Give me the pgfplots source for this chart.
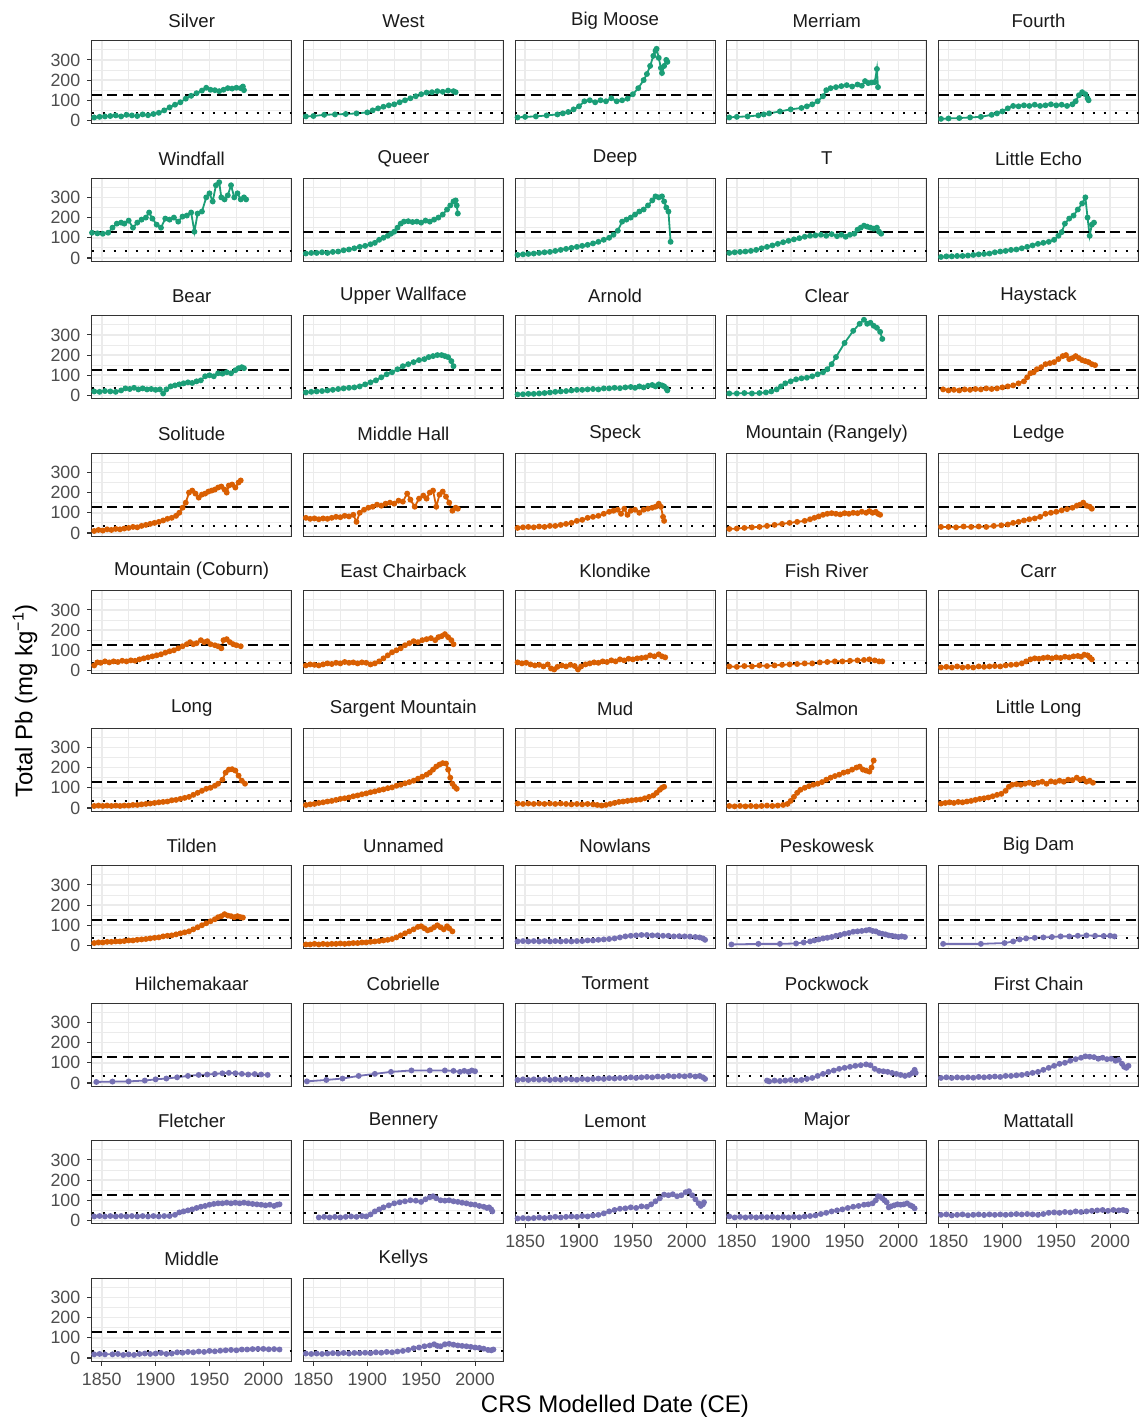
\documentclass[border=0pt]{standalone}
\usepackage{fontspec}
\setmainfont{Liberation Sans}
\usepackage{pgfplots}
\pgfplotsset{compat=1.18}
\definecolor{cg}{HTML}{1B9E77}
\definecolor{co}{HTML}{D95F02}
\definecolor{cp}{HTML}{7570B3}
\definecolor{gridc}{HTML}{EBEBEB}
\definecolor{framec}{HTML}{333333}
\definecolor{tickc}{HTML}{4D4D4D}
\definecolor{stripc}{HTML}{1A1A1A}
\pgfplotsset{
 every axis title/.style={at={(0.5,1)}, anchor=center, yshift=10pt, inner sep=0pt,
     font=\fontsize{9.3}{11}\selectfont, text=stripc},
 panel/.style={
   anchor=north west, scale only axis, width=100pt, height=41.5pt,
   xmin=1840.7, xmax=2026.3, ymin=-17, ymax=394,
   xtick={1850,1900,1950,2000}, minor xtick={1875,1925,1975,2025},
   ytick={0,100,200,300}, minor ytick={50,150,250,350},
   grid=both, major grid style={draw=gridc, line width=0.8pt},
   minor grid style={draw=gridc, line width=0.4pt},
   axis line style={draw=framec, line width=0.55pt},
   tick align=outside, tick pos=left, major tick length=2.2pt, minor tick length=0pt,
   xtick style={draw=none}, ytick style={draw=none},
   xticklabels={}, yticklabels={},
   ticklabel style={font=\fontsize{8.9}{10}\selectfont, text=tickc},
 },
 xlab/.style={xticklabels={1850,1900,1950,2000}, xtick style={draw=framec, line width=0.55pt}},
 ylab/.style={yticklabels={0,100,200,300}, ytick style={draw=framec, line width=0.55pt}},
}
\newcommand{\panel}[6]{%
 \begin{axis}[panel, at={({(91.7+211.7*#2)*0.5pt},{-(40.9+137.5*#1)*0.5pt})}, title={#3}, #6]
 \addplot[color=#4, line width=0.9pt, mark=*, mark size=1pt, mark options={solid}] coordinates {#5};
 \addplot[black, line width=1pt, dash pattern=on 5pt off 2.8pt] coordinates {(1840.7,128)(2026.3,128)};
 \addplot[black, line width=1.2pt, dash pattern=on 1.1pt off 4.4pt] coordinates {(1840.7,35.8)(2026.3,35.8)};
 \end{axis}}
\begin{document}
\begin{tikzpicture}
\path[use as bounding box] (0,0) rectangle (569.5pt,-710pt);
% Row 1
\panel{0}{0}{Silver}{cg}{(1843,15)(1848,18)(1853,20)(1858,22)(1863,25)(1868,20)(1873,28)(1878,25)(1883,22)(1888,30)(1893,26)(1898,32)(1903,38)(1908,50)(1913,65)(1918,78)(1923,90)(1928,108)(1933,122)(1938,135)(1943,148)(1947,162)(1951,152)(1955,150)(1959,145)(1963,152)(1967,160)(1971,158)(1975,162)(1979,160)(1981,168)(1982,150)}{ylab}
\panel{0}{1}{West}{cg}{(1843,20)(1850,22)(1860,28)(1870,30)(1880,32)(1890,35)(1900,40)(1905,50)(1910,60)(1915,68)(1920,75)(1925,80)(1930,90)(1935,100)(1940,110)(1945,120)(1950,130)(1955,138)(1960,140)(1965,145)(1970,142)(1975,148)(1980,145)(1982,140)}{}
\panel{0}{2}{Big Moose}{cg}{(1843,15)(1850,18)(1860,20)(1870,25)(1880,30)(1885,35)(1890,42)(1895,55)(1900,70)(1905,95)(1910,100)(1915,90)(1920,100)(1925,95)(1930,110)(1935,95)(1940,100)(1945,108)(1950,130)(1955,160)(1960,200)(1963,230)(1966,270)(1969,320)(1971,345)(1972,355)(1974,310)(1976,260)(1977,235)(1979,270)(1981,300)(1982,290)}{}
\panel{0}{3}{Merriam}{cg}{(1843,15)(1850,18)(1860,20)(1870,25)(1875,30)(1880,35)(1890,45)(1900,55)(1910,62)(1915,70)(1920,80)(1925,95)(1930,120)(1933,150)(1937,160)(1942,165)(1947,170)(1952,175)(1957,168)(1962,178)(1966,172)(1969,195)(1972,185)(1975,188)(1978,190)(1980,255)(1981,165)}{}
\panel{0}{4}{Fourth}{cg}{(1843,8)(1850,10)(1860,12)(1870,15)(1880,18)(1890,28)(1895,35)(1900,45)(1905,60)(1910,72)(1915,70)(1920,75)(1925,72)(1930,78)(1935,72)(1940,75)(1945,80)(1950,75)(1955,78)(1960,72)(1965,80)(1968,95)(1971,125)(1974,140)(1977,130)(1979,110)(1980,100)}{}
% Row 2
\panel{1}{0}{Windfall}{cg}{(1841,125)(1846,122)(1851,120)(1856,125)(1860,150)(1864,170)(1868,175)(1871,170)(1875,185)(1879,150)(1883,175)(1887,190)(1891,200)(1894,225)(1897,195)(1901,165)(1905,150)(1909,195)(1913,190)(1917,200)(1921,180)(1925,205)(1929,210)(1933,225)(1936,130)(1939,220)(1943,230)(1947,300)(1950,320)(1953,280)(1956,360)(1959,375)(1961,300)(1964,290)(1967,310)(1970,360)(1973,300)(1976,320)(1979,290)(1982,300)(1984,290)}{ylab}
\panel{1}{1}{Queer}{cg}{(1843,22)(1848,25)(1853,25)(1858,28)(1863,25)(1868,30)(1873,32)(1878,38)(1883,42)(1888,48)(1893,55)(1898,60)(1903,68)(1907,75)(1911,90)(1915,100)(1919,110)(1922,120)(1925,130)(1928,150)(1931,170)(1934,180)(1938,182)(1942,178)(1946,180)(1950,175)(1954,185)(1958,180)(1962,190)(1966,200)(1970,215)(1974,240)(1977,260)(1980,280)(1982,285)(1983,260)(1984,220)}{}
\panel{1}{2}{Deep}{cg}{(1843,15)(1848,18)(1853,20)(1858,22)(1863,25)(1868,28)(1873,30)(1878,35)(1883,40)(1888,45)(1893,50)(1898,55)(1903,60)(1908,65)(1913,72)(1918,80)(1923,90)(1928,100)(1932,115)(1936,135)(1940,180)(1944,190)(1948,200)(1952,215)(1956,230)(1960,240)(1964,260)(1968,285)(1971,305)(1974,300)(1977,305)(1979,280)(1981,250)(1983,230)(1985,80)}{}
\panel{1}{3}{T}{cg}{(1843,25)(1848,28)(1853,30)(1858,32)(1863,35)(1868,40)(1873,48)(1878,55)(1883,62)(1888,70)(1893,78)(1898,85)(1903,92)(1908,98)(1913,105)(1918,110)(1923,112)(1928,115)(1933,110)(1938,118)(1943,108)(1947,115)(1951,105)(1955,115)(1959,120)(1962,140)(1965,150)(1968,160)(1971,155)(1974,150)(1977,145)(1980,150)(1982,130)(1984,120)}{}
\panel{1}{4}{Little Echo}{cg}{(1843,5)(1848,8)(1853,8)(1858,10)(1863,10)(1868,12)(1873,15)(1878,18)(1883,20)(1888,22)(1893,28)(1898,32)(1903,35)(1908,40)(1913,42)(1918,48)(1923,55)(1928,62)(1933,70)(1938,75)(1943,80)(1948,90)(1952,110)(1955,128)(1958,170)(1962,195)(1966,210)(1970,240)(1974,270)(1977,300)(1979,200)(1981,110)(1983,165)(1985,175)}{}
% Row 3
\panel{2}{0}{Bear}{cg}{(1843,20)(1848,18)(1853,22)(1858,20)(1863,18)(1868,25)(1872,35)(1876,32)(1880,38)(1884,30)(1888,35)(1892,30)(1896,32)(1900,28)(1904,30)(1907,10)(1910,30)(1914,45)(1918,50)(1922,55)(1926,60)(1930,65)(1934,62)(1938,70)(1942,75)(1946,95)(1950,100)(1954,95)(1958,110)(1962,108)(1966,115)(1970,110)(1974,125)(1977,135)(1980,140)(1982,135)}{ylab}
\panel{2}{1}{Upper Wallface}{cg}{(1843,15)(1848,18)(1853,20)(1858,22)(1863,25)(1868,28)(1873,32)(1878,35)(1883,38)(1888,40)(1893,45)(1898,55)(1903,65)(1908,75)(1913,90)(1918,105)(1923,115)(1928,130)(1933,145)(1938,155)(1943,165)(1948,175)(1953,180)(1957,190)(1961,195)(1965,200)(1969,200)(1972,195)(1975,190)(1978,170)(1980,145)}{}
\panel{2}{2}{Arnold}{cg}{(1843,5)(1848,6)(1853,8)(1858,8)(1863,10)(1868,12)(1873,15)(1878,18)(1883,20)(1888,22)(1893,25)(1898,28)(1903,28)(1908,30)(1913,32)(1918,30)(1923,35)(1928,35)(1933,38)(1938,36)(1943,40)(1948,42)(1952,38)(1956,45)(1960,40)(1964,48)(1968,52)(1971,45)(1974,55)(1977,50)(1979,45)(1981,35)(1982,25)}{}
\panel{2}{3}{Clear}{cg}{(1843,10)(1850,10)(1857,12)(1864,10)(1871,12)(1877,15)(1882,20)(1887,30)(1891,45)(1895,60)(1900,70)(1905,80)(1910,85)(1915,88)(1920,95)(1925,105)(1930,115)(1934,130)(1938,155)(1942,190)(1950,260)(1958,320)(1964,355)(1968,375)(1971,355)(1974,360)(1977,345)(1980,335)(1983,315)(1985,280)}{}
\panel{2}{4}{Haystack}{co}{(1845,30)(1850,25)(1855,28)(1860,25)(1865,30)(1870,28)(1875,32)(1880,30)(1885,35)(1890,32)(1895,35)(1900,40)(1905,45)(1910,50)(1915,60)(1920,70)(1923,90)(1926,110)(1929,115)(1932,130)(1936,140)(1940,155)(1944,160)(1948,165)(1952,180)(1956,195)(1959,200)(1962,180)(1965,185)(1968,195)(1971,185)(1974,175)(1977,170)(1980,165)(1983,155)(1986,150)}{}
% Row 4
\panel{3}{0}{Solitude}{co}{(1843,10)(1847,15)(1851,12)(1855,18)(1859,15)(1863,20)(1867,18)(1871,22)(1875,25)(1879,30)(1883,28)(1887,35)(1891,40)(1895,45)(1899,50)(1903,55)(1907,62)(1911,70)(1915,75)(1919,85)(1922,100)(1925,125)(1928,150)(1931,200)(1934,210)(1937,195)(1940,175)(1943,190)(1946,195)(1949,205)(1952,210)(1955,215)(1958,225)(1961,230)(1964,215)(1966,200)(1968,235)(1971,240)(1974,225)(1977,250)(1979,260)}{ylab}
\panel{3}{1}{Middle Hall}{co}{(1843,75)(1847,70)(1851,72)(1855,68)(1859,72)(1863,70)(1867,75)(1871,80)(1875,78)(1879,85)(1883,82)(1887,90)(1890,55)(1893,100)(1897,115)(1901,125)(1905,130)(1909,140)(1913,135)(1917,145)(1921,150)(1925,145)(1929,160)(1933,155)(1937,195)(1940,165)(1944,130)(1948,170)(1952,185)(1955,170)(1958,200)(1961,210)(1964,130)(1967,190)(1970,205)(1973,180)(1976,150)(1979,110)(1982,125)(1984,120)}{}
\panel{3}{2}{Speck}{co}{(1843,25)(1848,28)(1853,30)(1858,28)(1863,32)(1868,30)(1873,35)(1878,35)(1883,40)(1888,45)(1893,50)(1898,60)(1903,65)(1908,75)(1913,80)(1918,85)(1923,95)(1928,105)(1932,110)(1936,115)(1939,95)(1942,120)(1945,90)(1948,110)(1952,115)(1956,100)(1960,115)(1964,120)(1968,125)(1971,130)(1974,145)(1976,130)(1978,80)(1979,60)}{}
\panel{3}{3}{Mountain (Rangely)}{co}{(1843,20)(1850,22)(1857,25)(1864,28)(1871,30)(1878,35)(1885,40)(1892,45)(1899,50)(1906,55)(1913,60)(1918,68)(1922,75)(1926,82)(1930,90)(1934,95)(1938,98)(1942,95)(1946,92)(1950,98)(1954,95)(1958,100)(1962,98)(1966,105)(1970,100)(1973,108)(1976,100)(1979,105)(1981,95)(1983,90)}{}
\panel{3}{4}{Ledge}{co}{(1843,30)(1850,30)(1857,28)(1864,32)(1871,30)(1878,32)(1885,30)(1892,35)(1899,38)(1905,42)(1910,50)(1915,55)(1920,62)(1925,68)(1930,72)(1935,80)(1940,95)(1945,100)(1950,105)(1955,112)(1960,118)(1965,125)(1969,135)(1972,140)(1975,150)(1978,135)(1981,130)(1983,120)}{}
% Row 5
\panel{4}{0}{Mountain (Coburn)}{co}{(1843,25)(1846,40)(1849,38)(1853,45)(1857,40)(1861,45)(1865,42)(1869,48)(1873,45)(1877,50)(1881,48)(1885,55)(1889,60)(1893,65)(1897,70)(1901,75)(1905,80)(1909,88)(1913,95)(1917,100)(1921,110)(1925,120)(1929,130)(1932,140)(1935,130)(1938,135)(1942,150)(1945,140)(1948,145)(1951,130)(1955,125)(1958,120)(1961,110)(1963,150)(1966,155)(1969,140)(1972,130)(1975,125)(1979,120)}{ylab}
\panel{4}{1}{East Chairback}{co}{(1843,25)(1847,30)(1851,28)(1855,25)(1859,30)(1863,35)(1867,32)(1871,38)(1875,35)(1879,42)(1883,38)(1887,40)(1891,35)(1895,40)(1899,38)(1903,30)(1907,35)(1911,45)(1915,60)(1919,75)(1923,90)(1927,100)(1931,110)(1935,125)(1939,135)(1943,145)(1947,140)(1951,150)(1955,155)(1959,160)(1963,150)(1966,165)(1969,170)(1972,180)(1975,165)(1978,150)(1980,130)}{}
\panel{4}{2}{Klondike}{co}{(1843,40)(1847,35)(1851,38)(1855,30)(1859,25)(1863,28)(1867,20)(1871,30)(1874,10)(1877,5)(1880,18)(1884,25)(1888,20)(1892,28)(1896,22)(1899,5)(1902,20)(1906,30)(1910,35)(1914,40)(1918,38)(1922,45)(1926,42)(1930,50)(1934,45)(1938,55)(1942,50)(1946,58)(1950,55)(1954,60)(1958,62)(1962,65)(1966,75)(1970,70)(1974,80)(1977,70)(1980,65)}{}
\panel{4}{3}{Fish River}{co}{(1843,20)(1850,18)(1857,22)(1864,20)(1871,25)(1878,22)(1885,25)(1892,28)(1899,30)(1906,32)(1913,35)(1920,35)(1927,40)(1934,42)(1941,45)(1948,45)(1955,48)(1962,50)(1968,52)(1973,55)(1978,50)(1982,45)(1985,45)}{}
\panel{4}{4}{Carr}{co}{(1843,15)(1848,18)(1853,15)(1858,20)(1863,15)(1868,18)(1873,15)(1878,20)(1883,18)(1888,20)(1893,22)(1898,20)(1903,25)(1908,28)(1913,30)(1918,35)(1922,45)(1926,55)(1930,60)(1934,58)(1938,62)(1942,65)(1946,60)(1950,65)(1954,62)(1958,68)(1962,65)(1966,70)(1970,72)(1973,68)(1976,78)(1979,75)(1981,65)(1983,55)}{}
% Row 6
\panel{5}{0}{Long}{co}{(1843,10)(1847,12)(1851,10)(1855,12)(1859,10)(1863,12)(1867,10)(1871,12)(1875,12)(1879,15)(1883,15)(1887,18)(1891,20)(1895,22)(1899,25)(1903,28)(1907,30)(1911,32)(1915,38)(1919,40)(1923,45)(1927,50)(1931,55)(1935,65)(1939,75)(1943,85)(1947,95)(1951,100)(1955,110)(1958,120)(1962,140)(1965,175)(1968,190)(1971,192)(1974,185)(1977,160)(1980,135)(1983,120)}{ylab}
\panel{5}{1}{Sargent Mountain}{co}{(1843,15)(1847,18)(1851,20)(1855,25)(1859,28)(1863,32)(1867,35)(1871,40)(1875,45)(1879,48)(1883,52)(1887,58)(1891,62)(1895,68)(1899,72)(1903,78)(1907,82)(1911,88)(1915,92)(1919,98)(1923,102)(1927,110)(1931,115)(1935,122)(1939,128)(1943,135)(1947,145)(1951,155)(1955,165)(1958,175)(1961,190)(1964,205)(1967,215)(1970,222)(1973,220)(1975,190)(1977,150)(1979,120)(1981,105)(1983,95)}{}
\panel{5}{2}{Mud}{co}{(1843,22)(1848,20)(1853,22)(1858,20)(1863,22)(1868,20)(1873,22)(1878,20)(1883,22)(1888,20)(1893,18)(1898,20)(1903,18)(1908,20)(1913,18)(1917,15)(1921,12)(1925,15)(1929,20)(1933,25)(1937,30)(1941,32)(1945,35)(1949,38)(1953,40)(1957,42)(1961,48)(1965,55)(1969,62)(1972,75)(1975,90)(1977,100)(1979,105)}{}
\panel{5}{3}{Salmon}{co}{(1843,10)(1848,8)(1853,10)(1858,8)(1863,10)(1868,8)(1873,10)(1878,12)(1883,10)(1888,12)(1893,15)(1897,20)(1900,35)(1903,55)(1906,75)(1909,90)(1913,100)(1917,108)(1921,115)(1925,120)(1929,128)(1933,140)(1937,150)(1941,158)(1945,165)(1949,175)(1953,180)(1957,190)(1961,200)(1964,205)(1967,190)(1970,185)(1973,180)(1975,200)(1977,235)}{}
\panel{5}{4}{Little Long}{co}{(1843,22)(1847,25)(1851,28)(1855,25)(1859,30)(1863,28)(1867,32)(1871,35)(1875,40)(1879,45)(1883,48)(1887,52)(1891,58)(1895,65)(1899,70)(1903,85)(1906,105)(1909,115)(1913,118)(1917,115)(1921,120)(1925,125)(1929,118)(1933,125)(1937,130)(1941,120)(1945,132)(1949,128)(1953,135)(1957,130)(1961,140)(1965,138)(1969,150)(1972,140)(1975,145)(1978,130)(1981,135)(1984,125)}{}
% Row 7
\panel{6}{0}{Tilden}{co}{(1843,12)(1847,15)(1851,15)(1855,18)(1859,18)(1863,20)(1867,20)(1871,22)(1875,25)(1879,25)(1883,28)(1887,30)(1891,32)(1895,35)(1899,38)(1903,40)(1907,45)(1911,48)(1915,50)(1919,55)(1923,60)(1927,65)(1931,70)(1935,80)(1939,90)(1943,100)(1947,110)(1951,120)(1955,130)(1958,140)(1961,145)(1964,155)(1967,148)(1970,145)(1973,140)(1976,145)(1979,140)(1981,138)}{ylab}
\panel{6}{1}{Unnamed}{co}{(1843,5)(1847,5)(1851,8)(1855,5)(1859,8)(1863,6)(1867,8)(1871,8)(1875,10)(1879,8)(1883,10)(1887,12)(1891,12)(1895,15)(1899,15)(1903,18)(1907,20)(1911,22)(1915,25)(1919,28)(1923,32)(1927,40)(1931,50)(1935,60)(1939,70)(1943,80)(1947,92)(1950,95)(1953,85)(1956,75)(1959,80)(1962,90)(1965,100)(1968,90)(1971,80)(1974,95)(1976,85)(1979,70)}{}
\panel{6}{2}{Nowlans}{cp}{(1843,20)(1848,22)(1853,20)(1858,22)(1863,20)(1868,22)(1873,20)(1878,22)(1883,20)(1888,22)(1893,20)(1898,22)(1903,22)(1908,25)(1913,25)(1918,28)(1923,30)(1928,32)(1933,35)(1938,40)(1943,45)(1948,48)(1953,50)(1958,52)(1963,52)(1968,50)(1973,50)(1978,48)(1983,48)(1988,45)(1993,46)(1998,45)(2003,44)(2008,42)(2012,40)(2015,35)(2017,28)}{}
\panel{6}{3}{Peskowesk}{cp}{(1845,5)(1870,8)(1890,8)(1905,10)(1912,15)(1918,20)(1922,25)(1926,30)(1930,35)(1934,38)(1938,42)(1942,48)(1946,52)(1950,58)(1954,62)(1958,68)(1962,70)(1966,72)(1970,75)(1973,78)(1976,72)(1979,70)(1982,62)(1985,58)(1988,55)(1991,50)(1994,48)(1997,45)(2000,42)(2003,45)(2006,42)}{}
\panel{6}{4}{Big Dam}{cp}{(1845,8)(1880,8)(1902,12)(1910,20)(1916,30)(1922,35)(1930,38)(1938,40)(1946,42)(1954,45)(1962,45)(1970,48)(1978,50)(1986,48)(1994,47)(2000,48)(2004,45)}{}
% Row 8
\panel{7}{0}{Hilchemakaar}{cp}{(1845,5)(1860,7)(1875,8)(1890,12)(1900,18)(1910,22)(1920,28)(1930,35)(1940,40)(1948,42)(1955,45)(1962,48)(1968,50)(1974,48)(1980,45)(1986,42)(1992,44)(1998,42)(2004,40)}{ylab}
\panel{7}{1}{Cobrielle}{cp}{(1844,8)(1862,15)(1877,22)(1892,35)(1907,45)(1922,55)(1941,62)(1958,62)(1972,62)(1980,60)(1986,55)(1990,60)(1994,55)(1997,62)(2000,58)}{}
\panel{7}{2}{Torment}{cp}{(1843,15)(1848,18)(1853,15)(1858,18)(1863,16)(1868,18)(1873,15)(1878,18)(1883,16)(1888,20)(1893,18)(1898,16)(1903,20)(1908,18)(1913,20)(1918,22)(1923,20)(1928,24)(1933,22)(1938,25)(1943,24)(1948,28)(1953,25)(1958,28)(1963,30)(1968,28)(1973,32)(1978,30)(1983,35)(1988,32)(1993,35)(1998,33)(2003,36)(2008,32)(2012,35)(2015,28)(2017,20)}{}
\panel{7}{3}{Pockwock}{cp}{(1878,12)(1880,8)(1885,12)(1890,10)(1895,12)(1900,15)(1905,12)(1910,15)(1915,20)(1920,25)(1925,35)(1930,45)(1935,55)(1940,62)(1945,70)(1950,75)(1955,80)(1960,85)(1965,88)(1970,92)(1974,88)(1978,70)(1982,60)(1986,58)(1990,55)(1994,50)(1998,45)(2002,40)(2006,35)(2010,40)(2013,50)(2015,65)(2016,50)}{}
\panel{7}{4}{First Chain}{cp}{(1843,25)(1848,28)(1853,25)(1858,28)(1863,26)(1868,28)(1873,26)(1878,30)(1883,28)(1888,30)(1893,32)(1898,30)(1903,35)(1908,35)(1913,38)(1918,40)(1923,45)(1928,50)(1933,55)(1938,65)(1943,75)(1948,85)(1953,95)(1958,100)(1963,110)(1968,118)(1973,125)(1977,132)(1981,130)(1985,128)(1989,120)(1993,125)(1997,118)(2001,120)(2005,110)(2008,115)(2011,95)(2013,80)(2015,75)(2017,85)}{}
% Row 9
\panel{8}{0}{Fletcher}{cp}{(1843,20)(1848,22)(1853,20)(1858,22)(1863,20)(1868,22)(1873,20)(1878,22)(1883,20)(1888,22)(1893,20)(1898,22)(1903,20)(1908,22)(1913,22)(1918,28)(1922,40)(1926,45)(1930,50)(1934,55)(1938,62)(1942,68)(1946,72)(1950,78)(1954,82)(1958,85)(1962,85)(1966,88)(1970,85)(1974,88)(1978,85)(1982,88)(1986,85)(1990,82)(1994,80)(1998,78)(2002,75)(2006,78)(2010,72)(2013,78)(2015,80)}{ylab}
\panel{8}{1}{Bennery}{cp}{(1855,15)(1860,18)(1865,15)(1870,18)(1875,15)(1880,18)(1885,20)(1890,18)(1895,22)(1899,20)(1903,30)(1907,45)(1911,55)(1915,65)(1920,75)(1925,85)(1930,90)(1935,95)(1940,100)(1945,98)(1950,92)(1954,105)(1958,115)(1961,120)(1964,110)(1968,100)(1972,98)(1976,100)(1980,95)(1984,92)(1988,88)(1992,85)(1996,80)(2000,78)(2004,72)(2008,68)(2011,62)(2013,65)(2015,55)(2016,45)}{}
\panel{8}{2}{Lemont}{cp}{(1843,10)(1848,12)(1853,10)(1858,12)(1863,15)(1868,12)(1873,15)(1878,18)(1883,15)(1888,18)(1893,20)(1898,18)(1903,22)(1908,20)(1913,25)(1918,28)(1923,35)(1928,45)(1933,52)(1938,58)(1943,60)(1948,65)(1953,62)(1958,70)(1963,68)(1967,80)(1971,95)(1975,110)(1979,128)(1983,125)(1987,130)(1991,120)(1995,125)(1999,140)(2002,145)(2005,125)(2008,105)(2011,85)(2013,72)(2015,80)(2016,90)}{xlab}
\panel{8}{3}{Major}{cp}{(1843,20)(1848,15)(1853,18)(1858,15)(1863,18)(1868,15)(1873,18)(1878,16)(1883,18)(1888,15)(1893,18)(1898,15)(1903,18)(1908,16)(1913,20)(1918,22)(1923,25)(1928,32)(1933,38)(1938,45)(1943,50)(1948,55)(1953,62)(1958,68)(1963,72)(1968,78)(1972,80)(1976,85)(1979,100)(1981,120)(1983,118)(1985,110)(1987,100)(1989,90)(1991,65)(1993,70)(1996,75)(1999,80)(2002,78)(2005,80)(2008,85)(2011,75)(2013,70)(2015,60)}{xlab}
\panel{8}{4}{Mattatall}{cp}{(1843,28)(1848,30)(1853,25)(1858,28)(1863,30)(1868,26)(1873,28)(1878,30)(1883,27)(1888,30)(1893,28)(1898,30)(1903,28)(1908,30)(1913,32)(1918,30)(1923,32)(1928,30)(1933,28)(1938,32)(1943,38)(1948,40)(1953,38)(1958,42)(1963,40)(1968,45)(1973,42)(1978,45)(1983,48)(1988,50)(1993,52)(1998,48)(2003,52)(2008,50)(2012,52)(2015,48)}{xlab}
% Row 10
\panel{9}{0}{Middle}{cp}{(1843,18)(1848,20)(1853,18)(1860,18)(1865,20)(1870,15)(1875,18)(1880,15)(1885,20)(1890,22)(1895,20)(1900,22)(1905,25)(1910,20)(1915,22)(1920,28)(1925,26)(1930,30)(1935,28)(1940,32)(1945,30)(1950,35)(1955,33)(1960,36)(1965,38)(1970,40)(1975,38)(1980,42)(1985,42)(1990,44)(1995,45)(2000,45)(2005,43)(2010,44)(2015,42)}{xlab,ylab}
\panel{9}{1}{Kellys}{cp}{(1843,22)(1848,20)(1853,22)(1858,20)(1863,22)(1868,24)(1873,22)(1878,25)(1883,22)(1888,25)(1893,24)(1898,26)(1903,24)(1908,28)(1913,26)(1918,30)(1923,28)(1928,32)(1933,35)(1938,40)(1943,48)(1948,52)(1953,58)(1958,62)(1962,68)(1965,60)(1968,58)(1972,68)(1976,70)(1980,66)(1984,62)(1988,60)(1992,58)(1996,55)(2000,52)(2004,50)(2008,46)(2012,40)(2015,38)(2017,42)}{xlab}
\node[rotate=90, font=\fontsize{12}{14}\selectfont] at (12.5pt,-350.5pt) {Total Pb (mg kg\textsuperscript{\char"2212 1})};
\node[font=\fontsize{12}{14}\selectfont] at (307.5pt,-703pt) {CRS Modelled Date (CE)};
\end{tikzpicture}
\end{document}
